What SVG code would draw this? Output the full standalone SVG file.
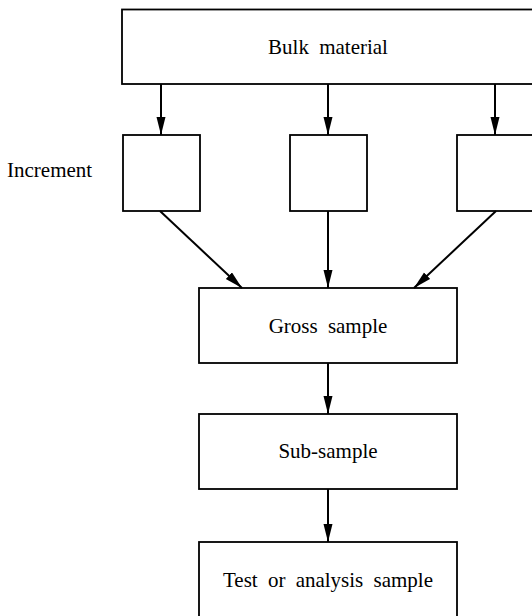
<svg xmlns="http://www.w3.org/2000/svg" width="532" height="616" viewBox="0 0 532 616">
<style>
.box{fill:#fff;stroke:#000;stroke-width:1.8}
.lbl{font-family:"Liberation Serif","Times New Roman",serif;font-size:21px;fill:#000;word-spacing:5px}
.mid{text-anchor:middle}
.conn{stroke:#000;stroke-width:2;fill:none;marker-end:url(#ah)}
</style>
<defs>
<marker id="ah" markerUnits="userSpaceOnUse" markerWidth="18" markerHeight="10" refX="18" refY="4.5" orient="auto">
<path d="M0,0 L18,4.5 L0,9 Z" fill="#000"/>
</marker>
</defs>
<rect width="532" height="616" fill="#fff"/>
<g id="bulk">
<rect class="box" x="122" y="9.5" width="412" height="74.5"/>
<text class="lbl mid" x="328" y="54">Bulk material</text>
</g>
<g id="increment-label">
<text class="lbl" x="7" y="177">Increment</text>
</g>
<g id="inc1"><rect class="box" x="123" y="135" width="77" height="76"/></g>
<g id="inc2"><rect class="box" x="290" y="135" width="77" height="76"/></g>
<g id="inc3"><rect class="box" x="457" y="135" width="77" height="76"/></g>
<g id="gross">
<rect class="box" x="199" y="288" width="258" height="75"/>
<text class="lbl mid" x="328" y="333">Gross sample</text>
</g>
<g id="sub">
<rect class="box" x="199" y="414" width="258" height="75"/>
<text class="lbl mid" x="328" y="458">Sub-sample</text>
</g>
<g id="test">
<rect class="box" x="199" y="542" width="258" height="80"/>
<text class="lbl mid" x="328" y="587">Test or analysis sample</text>
</g>
<g id="connectors">
<line class="conn" x1="161" y1="84" x2="161" y2="135"/>
<line class="conn" x1="328" y1="84" x2="328" y2="135"/>
<line class="conn" x1="495" y1="84" x2="495" y2="135"/>
<line class="conn" x1="160" y1="211" x2="242" y2="288"/>
<line class="conn" x1="328" y1="211" x2="328" y2="288"/>
<line class="conn" x1="496" y1="211" x2="414" y2="288"/>
<line class="conn" x1="328" y1="363" x2="328" y2="414"/>
<line class="conn" x1="328" y1="489" x2="328" y2="542"/>
</g>
</svg>
